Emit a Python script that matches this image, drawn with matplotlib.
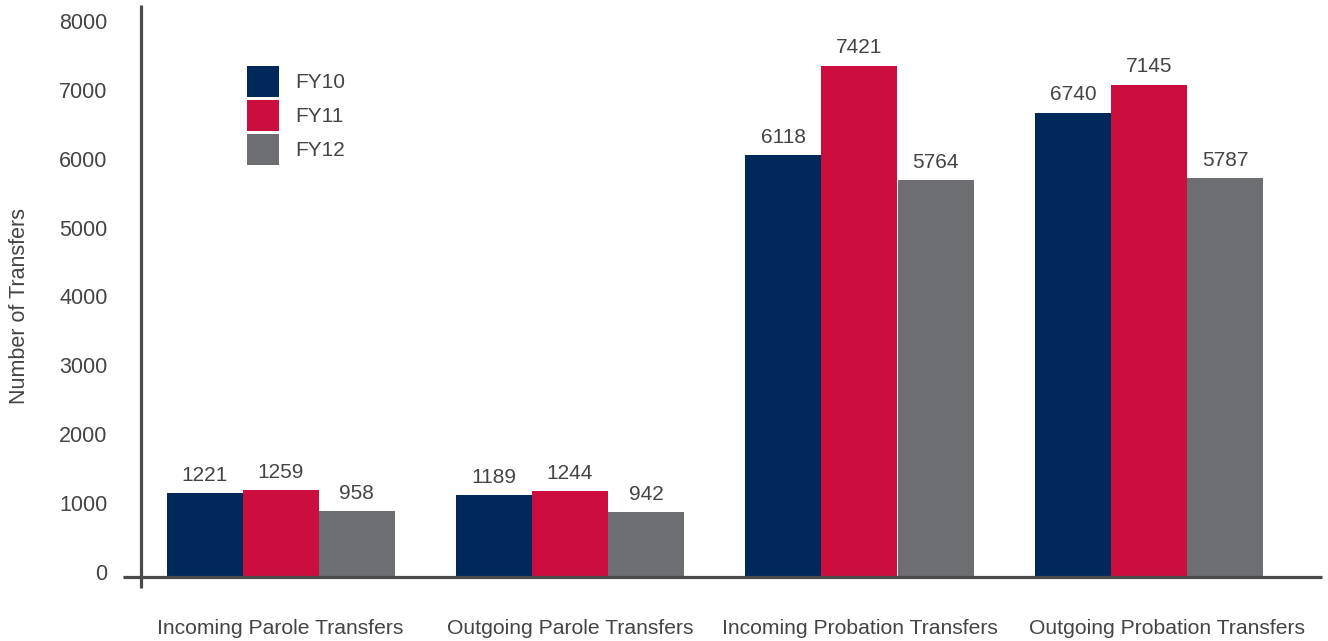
import matplotlib
matplotlib.use("Agg")
import matplotlib.pyplot as plt
import numpy as np
from matplotlib.transforms import ScaledTranslation

categories = ["Incoming Parole Transfers", "Outgoing Parole Transfers",
              "Incoming Probation Transfers", "Outgoing Probation Transfers"]
series_names = ["FY10", "FY11", "FY12"]
fy10 = [1221, 1189, 6118, 6740]
fy11 = [1259, 1244, 7421, 7145]
fy12 = [958, 942, 5764, 5787]
y_ticks = [0, 1000, 2000, 3000, 4000, 5000, 6000, 7000, 8000]

colors = ["#00295B", "#CC0E3F", "#6D6E72"]
text_color = "#444444"
axis_color = "#4a4a4a"

plt.rcParams['font.family'] = ['Liberation Sans', 'DejaVu Sans']

W, H = 1328, 641
fig = plt.figure(figsize=(W / 100, H / 100), dpi=100)
left_px, right_px, bottom_px, top_px = 141, 1322, 577, 5
ax = fig.add_axes([left_px / W, (H - bottom_px) / H,
                   (right_px - left_px) / W, (bottom_px - top_px) / H])

px_per_unit = 68.9 / 1000
ax.set_ylim(0, (bottom_px - top_px) / px_per_unit)
group_px = 289.5
bar_w = 76 / group_px
c0 = 280.5
ax.set_xlim((left_px - c0) / group_px, (right_px - c0) / group_px)

x = np.arange(len(categories))
for i, (vals, name) in enumerate(zip([fy10, fy11, fy12], series_names)):
    bars = ax.bar(x + (i - 1) * bar_w, vals, width=bar_w, color=colors[i],
                  label=name, zorder=2)
    ax.bar_label(bars, labels=[str(v) for v in vals], padding=6,
                 fontsize=15, color=text_color)

for s in ax.spines.values():
    s.set_visible(False)
# custom axis lines
ax.plot([(123 - left_px) / (right_px - left_px), 1], [0, 0], transform=ax.transAxes,
        color=axis_color, lw=2.3, clip_on=False, zorder=3, solid_capstyle='butt')
ax.plot([0, 0], [(bottom_px - 588) / (bottom_px - top_px), 1], transform=ax.transAxes,
        color=axis_color, lw=2.3, clip_on=False, zorder=3, solid_capstyle='butt')

ax.set_yticks(y_ticks)
ax.set_yticklabels([str(t) for t in y_ticks])
ax.tick_params(axis='y', length=0, pad=24, labelsize=15.5, labelcolor=text_color)
ax.set_xticks(x)
ax.set_xticklabels(categories)
ax.tick_params(axis='x', length=0, pad=30, labelsize=15.2, labelcolor=text_color)
for lab in ax.get_yticklabels():
    lab.set_transform(lab.get_transform() + ScaledTranslation(0, 5 / 100, fig.dpi_scale_trans))
xlabs = ax.get_xticklabels()
xlabs[-1].set_transform(xlabs[-1].get_transform() + ScaledTranslation(18 / 100, 0, fig.dpi_scale_trans))

fig.text(20 / W, 1 - 305.5 / H, "Number of Transfers", rotation=90, ha='center',
         va='center', fontsize=15.5, color=text_color)

fs = 15
fs_px = fs * 100 / 72
leg = ax.legend(loc='upper left', bbox_to_anchor=(247 / W, 1 - 66 / H),
                bbox_transform=fig.transFigure, frameon=False, fontsize=fs,
                handlelength=32 / fs_px, handleheight=32 / fs_px * 32 / 26 * 14.5 / 15 * (15 / 14.5),
                labelspacing=3.5 / fs_px, handletextpad=16 / fs_px,
                borderpad=0, borderaxespad=0)
for t in leg.get_texts():
    t.set_color(text_color)

fig.savefig("out.png", dpi=100)
